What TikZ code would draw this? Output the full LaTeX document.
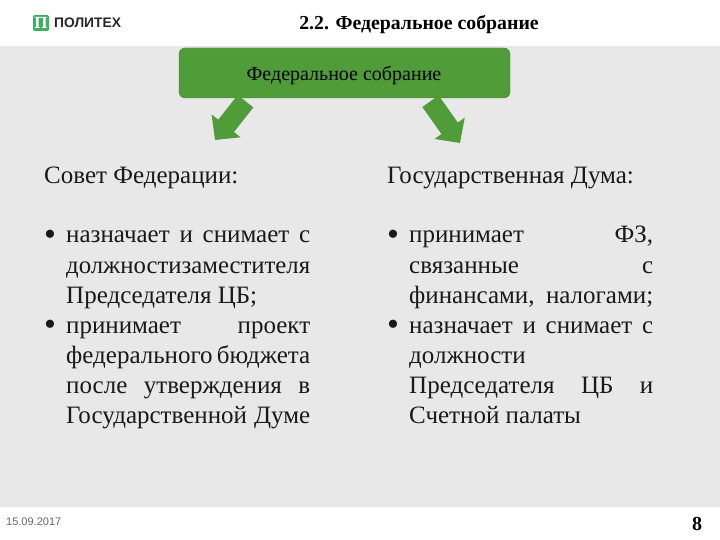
\documentclass[tikz,border=0pt]{standalone}
\usepackage{fontspec}
\usepackage{xcolor}
\setmainfont{Liberation Serif}
\setsansfont{Liberation Sans}
\usetikzlibrary{arrows.meta}
\definecolor{bandgray}{HTML}{E8E8E8}
\definecolor{polygreen}{HTML}{4F9C38}
\definecolor{logogreen}{HTML}{3FAE64}
\newcommand{\jline}[1]{\makebox[244pt][s]{#1}}
\tikzset{
  bodyline/.style={anchor=base west,inner sep=0pt,font=\fontsize{25}{25}\selectfont,text=black!90},
  bulletmark/.style={anchor=base west,inner sep=0pt,font=\fontsize{34}{34}\selectfont,text=black!90},
  bigarrow/.style={polygreen,line width=20pt,-{Triangle[length=18pt,width=36pt]}}
}

\begin{document}
\begin{tikzpicture}[x=1pt,y=-1pt]
    \useasboundingbox (0,0) rectangle (720,540);
    % grey band
    \fill[bandgray] (0,46) rectangle (720,507);

    % header
    \node[fill=logogreen,rounded corners=2pt,minimum size=16pt,inner sep=0pt,text=white,font=\bfseries\fontsize{17}{17}\selectfont] (logo) at (41,23) {П};
    \node[anchor=west,inner sep=0pt,font=\sffamily\bfseries\fontsize{13.8}{14}\selectfont,text=black!85] (brand) at (54,23) {ПОЛИТЕХ};
    \node[inner sep=0pt,font=\bfseries\fontsize{19.8}{20}\selectfont] (title) at (419,24.5) {2.2. Федеральное собрание};

    % top box and arrows
    \node[fill=polygreen,draw=polygreen!85!black,rounded corners=6pt,minimum width=331pt,minimum height=50pt,inner sep=0pt] (sobranie) at (344.5,73) {};
    \node[inner sep=0pt,font=\fontsize{20}{20}\selectfont] (sobranietext) at (344,75.5) {Федеральное собрание};
    \coordinate (lefttip) at (215,140);
    \coordinate (righttip) at (460,143);
    \draw[bigarrow] ([xshift=-99pt,yshift=-3pt]sobranie.south) -- (lefttip);
    \draw[bigarrow] ([xshift=86pt,yshift=-3pt]sobranie.south) -- (righttip);

    % left column
    \node[bodyline] (sovet) at (44,184) {Совет Федерации:};
    \node[bulletmark] (bulletA) at (44,245) {•};
    \node[bodyline] (lineA) at (66,243) {\jline{назначает и снимает с}};
    \node[bodyline] (lineB) at (66,273) {\resizebox{244pt}{!}{должностизаместителя}};
    \node[bodyline] (lineC) at (66,303) {Председателя ЦБ;};
    \node[bulletmark] (bulletB) at (44,335) {•};
    \node[bodyline] (lineD) at (66,333) {\jline{принимает проект}};
    \node[bodyline] (lineE) at (66,363) {\jline{федерального бюджета}};
    \node[bodyline] (lineF) at (66,393) {\jline{после утверждения в}};
    \node[bodyline] (lineG) at (66,423) {\jline{Государственной Думе}};

    % right column
    \node[bodyline] (duma) at (387,184) {Государственная Дума:};
    \node[bulletmark] (bulletC) at (387,245) {•};
    \node[bodyline] (lineH) at (409,243) {\jline{принимает ФЗ,}};
    \node[bodyline] (lineI) at (409,273) {\jline{связанные с}};
    \node[bodyline] (lineJ) at (409,303) {\jline{финансами, налогами;}};
    \node[bulletmark] (bulletD) at (387,335) {•};
    \node[bodyline] (lineK) at (409,333) {\jline{назначает и снимает с}};
    \node[bodyline] (lineL) at (409,363) {должности};
    \node[bodyline] (lineM) at (409,393) {\jline{Председателя ЦБ и}};
    \node[bodyline] (lineN) at (409,423) {Счетной палаты};

    % footer
    \node[anchor=west,inner sep=0pt,font=\sffamily\fontsize{11}{11}\selectfont,text=black!60] (date) at (6,521.5) {15.09.2017};
    \node[inner sep=0pt,font=\bfseries\fontsize{20}{20}\selectfont] (pagenum) at (697,524) {8};
\end{tikzpicture}
\end{document}
